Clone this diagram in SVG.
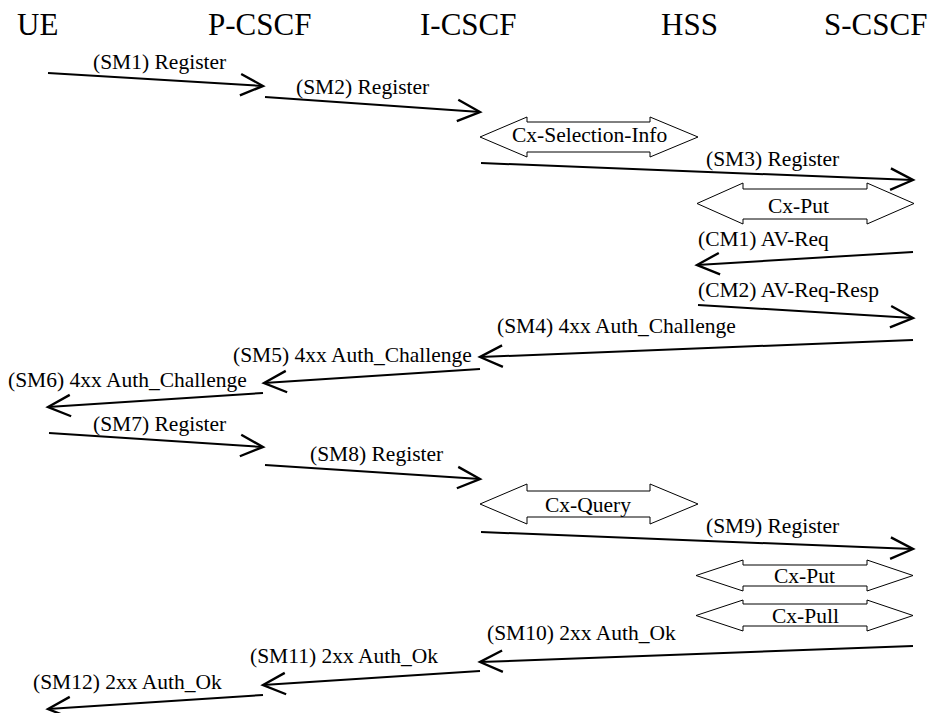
<svg xmlns="http://www.w3.org/2000/svg" width="941" height="713" viewBox="0 0 941 713">
<style>
  .hdr { font-family: "Liberation Serif", "Times New Roman", serif; font-size: 31px; fill: #000; }
  .lbl { font-family: "Liberation Serif", "Times New Roman", serif; font-size: 21.5px; fill: #000; }
  .msg { stroke: #000; stroke-width: 2; fill: none; marker-end: url(#open); }
  .dbl { stroke: #000; stroke-width: 1; fill: #fff; }
</style>
<defs>
  <marker id="open" markerUnits="userSpaceOnUse" markerWidth="30" markerHeight="30" viewBox="-24 -13 28 26" refX="0" refY="0" orient="auto">
    <path d="M -21,-10 L 0,0 L -21,10" fill="none" stroke="#000" stroke-width="2.2" stroke-linejoin="miter"/>
  </marker>
</defs>
<rect width="941" height="713" fill="#fff"/>

<g id="node-ue"><text class="hdr" x="17" y="35">UE</text></g>
<g id="node-pcscf"><text class="hdr" x="208" y="35">P-CSCF</text></g>
<g id="node-icscf"><text class="hdr" x="420" y="35">I-CSCF</text></g>
<g id="node-hss"><text class="hdr" x="661" y="35">HSS</text></g>
<g id="node-scscf"><text class="hdr" x="824" y="35">S-CSCF</text></g>

<g id="connectors">
  <line class="msg" x1="48" y1="73" x2="263" y2="86"/>
  <text class="lbl" x="93" y="69">(SM1) Register</text>

  <line class="msg" x1="265" y1="97" x2="480" y2="112"/>
  <text class="lbl" x="296" y="94">(SM2) Register</text>

  <polygon class="dbl" points="480,137 527,117 527,122 650,122 650,117 698,137 650,157 650,152 527,152 527,157"/>
  <text class="lbl" x="512" y="142">Cx-Selection-Info</text>

  <line class="msg" x1="481" y1="163" x2="913" y2="180"/>
  <text class="lbl" x="706" y="166">(SM3) Register</text>

  <polygon class="dbl" points="697,203.5 743,183 743,189 867,189 867,183 914,203.5 867,224 867,219 743,219 743,224"/>
  <text class="lbl" x="768" y="213">Cx-Put</text>

  <line class="msg" x1="913" y1="252" x2="697" y2="265"/>
  <text class="lbl" x="698" y="246">(CM1) AV-Req</text>

  <line class="msg" x1="698" y1="305" x2="913" y2="318"/>
  <text class="lbl" x="698" y="297">(CM2) AV-Req-Resp</text>

  <line class="msg" x1="913" y1="340" x2="480" y2="357"/>
  <text class="lbl" x="497" y="333">(SM4) 4xx Auth_Challenge</text>

  <line class="msg" x1="480" y1="369" x2="264" y2="383"/>
  <text class="lbl" x="233" y="362">(SM5) 4xx Auth_Challenge</text>

  <line class="msg" x1="263" y1="393" x2="48" y2="407"/>
  <text class="lbl" x="8" y="387">(SM6) 4xx Auth_Challenge</text>

  <line class="msg" x1="49" y1="433" x2="263" y2="447"/>
  <text class="lbl" x="93" y="431">(SM7) Register</text>

  <line class="msg" x1="265" y1="465" x2="480" y2="479"/>
  <text class="lbl" x="310" y="461">(SM8) Register</text>

  <polygon class="dbl" points="480,504 527,484 527,491 650,491 650,484 698,504 650,524 650,517 527,517 527,524"/>
  <text class="lbl" x="545" y="512">Cx-Query</text>

  <line class="msg" x1="481" y1="532" x2="913" y2="549"/>
  <text class="lbl" x="706" y="533">(SM9) Register</text>

  <polygon class="dbl" points="696,575.5 743,560 743,565 867,565 867,560 913,575.5 867,591 867,586 743,586 743,591"/>
  <text class="lbl" x="774" y="583">Cx-Put</text>

  <polygon class="dbl" points="696,615.5 743,600 743,604 867,604 867,600 913,615.5 867,631 867,626 743,626 743,631"/>
  <text class="lbl" x="772" y="623">Cx-Pull</text>

  <line class="msg" x1="913" y1="646" x2="480" y2="662"/>
  <text class="lbl" x="487" y="640">(SM10) 2xx Auth_Ok</text>

  <line class="msg" x1="480" y1="671" x2="263" y2="685"/>
  <text class="lbl" x="250" y="663">(SM11) 2xx Auth_Ok</text>

  <line class="msg" x1="263" y1="695" x2="48" y2="709"/>
  <text class="lbl" x="33" y="689">(SM12) 2xx Auth_Ok</text>
</g>
</svg>
